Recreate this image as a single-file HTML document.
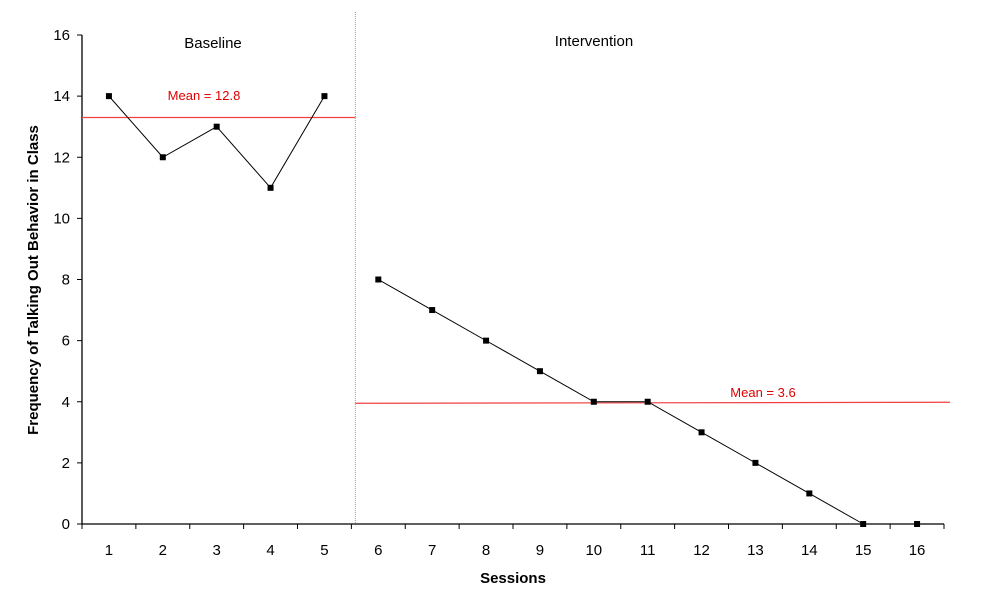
<!DOCTYPE html>
<html><head><meta charset="utf-8"><style>
body{margin:0;background:#fff}
svg text{font-family:"Liberation Sans",Arial,sans-serif}
</style></head><body>
<svg id="chart" width="982" height="605" xmlns="http://www.w3.org/2000/svg"></svg>
<script>
const sessions=[1,2,3,4,5,6,7,8,9,10,11,12,13,14,15,16];
const baseline=[14,12,13,11,14];
const intervention=[8,7,6,5,4,4,3,2,1,0,0];
const yTicks=[0,2,4,6,8,10,12,14,16];
const baselineMeanLine=13.3;
const interventionMeanLine=3.95;
const svg=document.getElementById('chart');
const NS='http://www.w3.org/2000/svg';
const x0=82,x1=944,y0=524,y1=35;
const bw=(x1-x0)/sessions.length;
const X=s=>x0+(s-0.5)*bw;
const Y=v=>y0-(v/16)*(y0-y1);
function mk(t,a,txt){const e=document.createElementNS(NS,t);for(const k in a)e.setAttribute(k,a[k]);if(txt!=null)e.textContent=txt;svg.appendChild(e);return e;}
let e;
e=mk('line',{x1:x0,y1:y0,x2:x1,y2:y0,stroke:'#000','stroke-width':1.3});

e=mk('line',{x1:x0,y1:y1,x2:x0,y2:y0,stroke:'#000','stroke-width':1.3});

yTicks.forEach(v=>{
 e=mk('line',{x1:x0-5,y1:Y(v),x2:x0,y2:Y(v),stroke:'#000'});
 
 e=mk('text',{x:x0-12,y:Y(v)+5,'text-anchor':'end','font-size':15},v);
 
});
for(let i=0;i<=sessions.length;i++){
 e=mk('line',{x1:x0+i*bw,y1:y0,x2:x0+i*bw,y2:y0+5,stroke:'#000'});
 
}
sessions.forEach(s=>{
 e=mk('text',{x:X(s),y:y0+31,'text-anchor':'middle','font-size':15},s);
 
});
const phaseX=x0+5*bw+4;
e=mk('line',{x1:phaseX,y1:12,x2:phaseX,y2:y0,stroke:'#999','stroke-dasharray':'1,1'});

e=mk('line',{x1:x0,y1:Y(baselineMeanLine),x2:phaseX,y2:Y(baselineMeanLine),stroke:'#f04040','stroke-width':1.2});

e=mk('line',{x1:phaseX,y1:Y(interventionMeanLine),x2:950,y2:Y(interventionMeanLine)-1,stroke:'#f04040','stroke-width':1.2});

e=mk('text',{x:204,y:100,'text-anchor':'middle','font-size':13,fill:'#e00000'},'Mean = 12.8');

e=mk('text',{x:763,y:397,'text-anchor':'middle','font-size':13,fill:'#e00000'},'Mean = 3.6');

e=mk('text',{x:213,y:48,'text-anchor':'middle','font-size':15},'Baseline');

e=mk('text',{x:594,y:46,'text-anchor':'middle','font-size':15},'Intervention');

e=mk('polyline',{points:baseline.map((v,i)=>X(i+1)+','+Y(v)).join(' '),fill:'none',stroke:'#000'});

const lineN=intervention.length-1;
e=mk('polyline',{points:intervention.slice(0,lineN).map((v,i)=>X(i+6)+','+Y(v)).join(' '),fill:'none',stroke:'#000'});

baseline.forEach((v,i)=>{
 e=mk('rect',{x:X(i+1)-3,y:Y(v)-3,width:6,height:6,fill:'#000'});
 
});
intervention.forEach((v,i)=>{
 e=mk('rect',{x:X(i+6)-3,y:Y(v)-3,width:6,height:6,fill:'#000'});
 
});
e=mk('text',{x:513,y:583,'text-anchor':'middle','font-size':15,'font-weight':'bold'},'Sessions');

e=mk('text',{x:0,y:0,'text-anchor':'middle','font-size':15,'font-weight':'bold',transform:'translate(38,280) rotate(-90)'},'Frequency of Talking Out Behavior in Class');

</script>
</body></html>
